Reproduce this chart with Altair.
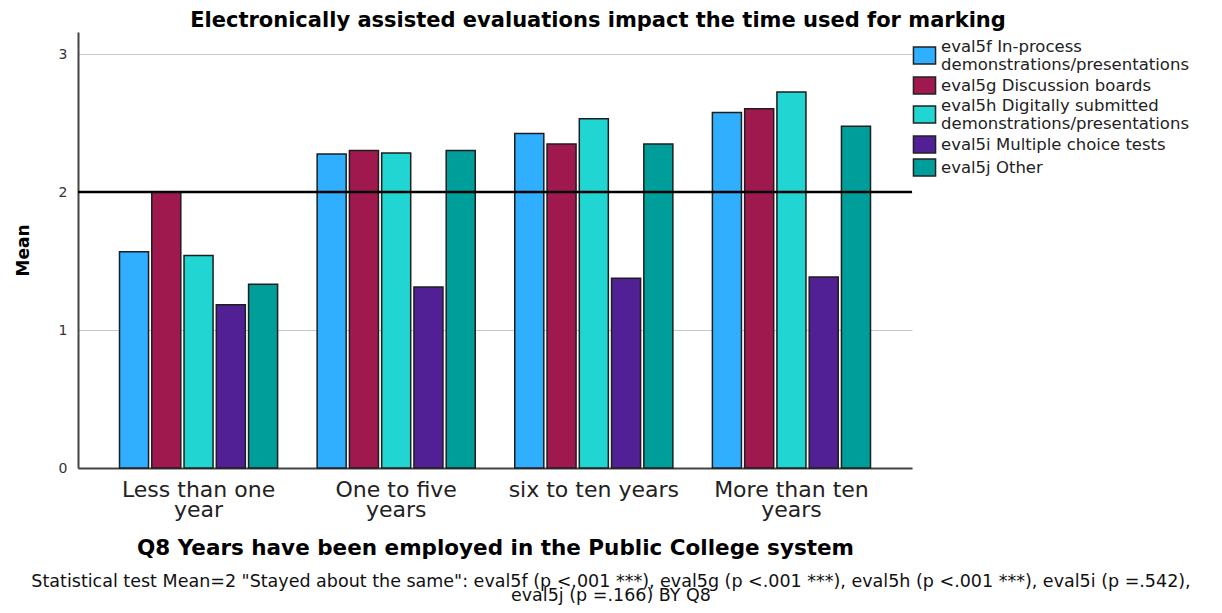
import altair as alt
import pandas as pd

# ---------------- data ----------------
categories = ["Less than one year", "One to five years", "six to ten years", "More than ten years"]
category_lines = {
    "Less than one year": ["Less than one", "year"],
    "One to five years": ["One to five", "years"],
    "six to ten years": ["six to ten years"],
    "More than ten years": ["More than ten", "years"],
}
series = [
    "eval5f In-process demonstrations/presentations",
    "eval5g Discussion boards",
    "eval5h Digitally submitted demonstrations/presentations",
    "eval5i Multiple choice tests",
    "eval5j Other",
]
series_lines = {
    "eval5f In-process demonstrations/presentations": ["eval5f In-process", "demonstrations/presentations"],
    "eval5g Discussion boards": ["eval5g Discussion boards"],
    "eval5h Digitally submitted demonstrations/presentations": ["eval5h Digitally submitted", "demonstrations/presentations"],
    "eval5i Multiple choice tests": ["eval5i Multiple choice tests"],
    "eval5j Other": ["eval5j Other"],
}
colors = ["#30AEFF", "#A0194E", "#21D5D2", "#512094", "#009E9A"]

eval5f = [1.567, 2.275, 2.425, 2.577]
eval5g = [2.000, 2.302, 2.348, 2.604]
eval5h = [1.541, 2.283, 2.531, 2.725]
eval5i = [1.183, 1.312, 1.375, 1.384]
eval5j = [1.331, 2.302, 2.348, 2.476]

reference_value = [2]
title_text = "Electronically assisted evaluations impact the time used for marking"
x_title = "Q8 Years have been employed in the Public College system"
y_title = "Mean"
footnote = [
    'Statistical test Mean=2 "Stayed about the same": eval5f (p <.001 ***), eval5g (p <.001 ***), eval5h (p <.001 ***), eval5i (p =.542),',
    "eval5j (p =.166) BY Q8",
]

# ---------------- table ----------------
rows = []
for s, vals in zip(series, [eval5f, eval5g, eval5h, eval5i, eval5j]):
    for c, v in zip(categories, vals):
        rows.append({"period": c, "series": s, "mean": v})
df = pd.DataFrame(rows)


def expr_map(mapping, fallback="datum.label"):
    parts = []
    for k, lines in mapping.items():
        arr = "[" + ",".join("'" + l + "'" for l in lines) + "]"
        parts.append("datum.label == '" + k + "' ? " + arr + " : ")
    return "".join(parts) + fallback


two_line_series = [s for s in series if len(series_lines[s]) > 1]
baseline_expr = (
    "indexof([" + ",".join("'" + s + "'" for s in two_line_series) + "], datum.value) >= 0"
    " ? 'line-bottom' : 'middle'"
)

FONT = "DejaVu Sans"

y_axis = alt.Axis(
    title=y_title,
    values=[0, 1, 2, 3],
    format="d",
    ticks=False,
    labelPadding=11,
    labelFontSize=14,
    labelFont=FONT,
    labelColor="#333333",
    domainColor="#444444",
    domainWidth=2,
    grid=True,
    gridColor="#c8c8c8",
    gridWidth=1,
    titleFontSize=17,
    titleFont=FONT,
    titleFontWeight="bold",
    titleColor="#000000",
    titlePadding=26,
)
y_scale = alt.Scale(domain=[0, 3.16], nice=False)

bars = alt.Chart(df).mark_bar(stroke="#1e1e1e", strokeWidth=1.5).encode(
    x=alt.X(
        "period:N",
        sort=categories,
        scale=alt.Scale(paddingInner=0.2, paddingOuter=0.21),
        axis=alt.Axis(
            title=x_title,
            labelAngle=0,
            labelExpr=expr_map(category_lines),
            labelFontSize=22,
            labelFont=FONT,
            labelColor="#222222",
            labelPadding=11,
            labelLineHeight=20,
            ticks=False,
            domainColor="#444444",
            domainWidth=2,
            titleFontSize=21.5,
            titleFont=FONT,
            titleFontWeight="bold",
            titleColor="#000000",
            titlePadding=17,
        ),
    ),
    xOffset=alt.XOffset("series:N", sort=series, scale=alt.Scale(paddingInner=0.1, paddingOuter=0)),
    y=alt.Y("mean:Q", scale=y_scale, axis=y_axis),
    color=alt.Color(
        "series:N",
        sort=series,
        scale=alt.Scale(domain=series, range=colors),
        legend=alt.Legend(
            title=None,
            orient="none",
            legendX=837,
            legendY=14,
            symbolType="M-1.3,-1H1.3V1H-1.3Z",
            symbolSize=289,
            symbolStrokeColor="#222222",
            symbolStrokeWidth=1.5,
            symbolOpacity=1,
            labelExpr=expr_map(series_lines),
            labelBaseline=alt.ExprRef(expr=baseline_expr),
            labelFont=FONT,
            labelFontSize=16.5,
            labelColor="#222222",
            labelLimit=400,
            labelOffset=7,
            rowPadding=0,
        ),
    ),
)

ref_rule = alt.Chart(pd.DataFrame({"mean": reference_value})).mark_rule(
    color="#000000", strokeWidth=2.5
).encode(y=alt.Y("mean:Q", scale=y_scale, axis=y_axis))

note = alt.Chart(pd.DataFrame({"n": [0]})).mark_text(
    text=footnote,
    font=FONT,
    fontSize=17.5,
    lineHeight=14,
    align="center",
    baseline="middle",
    color="#111111",
).encode(x=alt.value(533), y=alt.value(550))

chart = alt.layer(bars, ref_rule, note).properties(
    width=834,
    height=436,
    padding={"left": 70, "top": 24, "right": 302, "bottom": 137},
    autosize=alt.AutoSizeParams(type="none"),
    title=alt.TitleParams(
        title_text,
        anchor="middle",
        frame="group",
        dx=103,
        dy=22,
        offset=6,
        baseline="alphabetic",
        font=FONT,
        fontSize=21,
        fontWeight="bold",
        color="#000000",
    ),
).configure_view(stroke=None)

chart.save("out.html", embed_options={"renderer": "svg", "actions": False})
